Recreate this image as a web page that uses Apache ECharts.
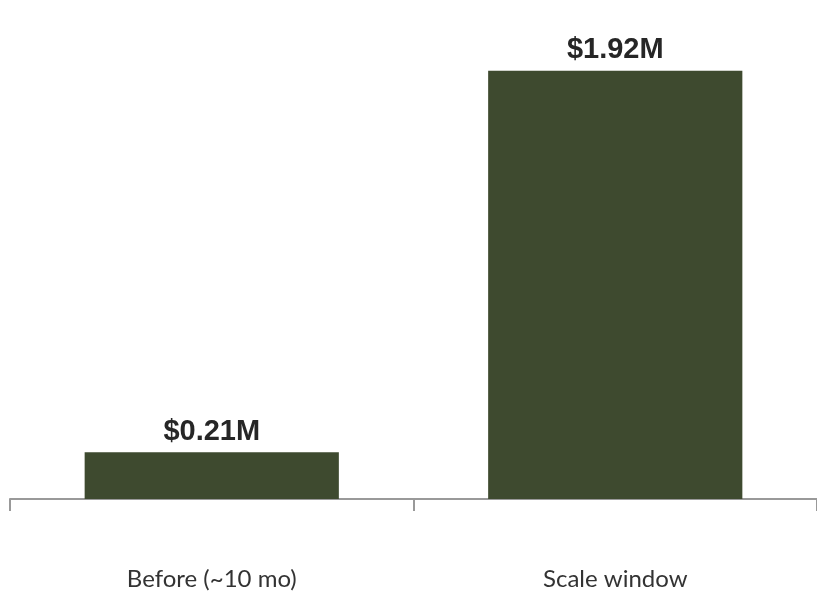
<!DOCTYPE html>
<html>
<head>
<meta charset="utf-8">
<script src="https://cdn.jsdelivr.net/npm/echarts@6/dist/echarts.min.js"></script>
<style>
  html, body { margin: 0; padding: 0; background: #fff; }
  #chart { width: 817px; height: 591px; }
</style>
</head>
<body>
<div id="chart"></div>
<script>
// values in $M
var categories = ['Before (~10 mo)', 'Scale window'];
var revenue = [0.21, 1.92];
var valueLabels = ['$0.21M', '$1.92M'];

var chart = echarts.init(document.getElementById('chart'));
chart.setOption({
    animation: false,
    grid: { left: 10, right: -2, top: 53, bottom: 91 },
    xAxis: {
        type: 'category',
        data: categories,
        axisLine: { lineStyle: { color: '#999', width: 2 } },
        axisTick: { show: true, length: 12, lineStyle: { color: '#999', width: 2 } },
        axisLabel: {
            margin: 68,
            fontFamily: 'Lato',
            fontSize: 24,
            color: '#333'
        }
    },
    yAxis: {
        type: 'value',
        min: 0,
        max: 2,
        show: false
    },
    series: [{
        type: 'bar',
        data: revenue,
        barWidth: '63%',
        itemStyle: { color: '#3e4a2f' },
        label: {
            show: true,
            position: 'top',
            distance: 6,
            fontFamily: 'Liberation Sans',
            fontWeight: 'bold',
            fontSize: 29,
            color: '#262626',
            formatter: function (p) { return valueLabels[p.dataIndex]; }
        }
    }]
});
</script>
</body>
</html>
